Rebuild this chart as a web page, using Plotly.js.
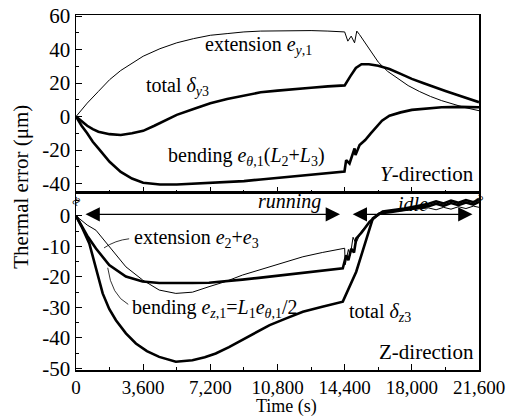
<!DOCTYPE html>
<html>
<head>
<meta charset="utf-8">
<script src="https://cdn.plot.ly/plotly-3.0.1.min.js"></script>
<style>html,body{margin:0;padding:0;background:#fff;}#chart{width:514px;height:416px;}</style>
</head>
<body>
<div id="chart"></div>
<script>
// ---------- Y-direction (top panel) ----------
const tExtY  = [0, 600, 1200, 1800, 2400, 3000, 3600, 4500, 5400, 6300, 7200, 8100, 9000, 9900, 10800, 11700, 12600, 13500, 14300, 14400, 14570, 14750, 14930, 15050, 15190, 15600, 16200, 16700, 17200, 17800, 18400, 19000, 19600, 20200, 20800, 21600];
const extY   = [0, 8, 15, 22, 27.5, 32, 36, 40.5, 44, 46.5, 48.5, 49.5, 50.5, 51, 51.2, 51.3, 51.3, 51, 50.6, 50.5, 45, 48, 44, 51, 49, 42, 32.5, 27, 23, 18.5, 15, 12, 9.5, 7.5, 5.5, 3.5];

const tTotY  = [0, 300, 600, 900, 1200, 1800, 2400, 3000, 3600, 4200, 4800, 5400, 6300, 7200, 8100, 9000, 9900, 10800, 11700, 12600, 13500, 14400, 14700, 15000, 15300, 15700, 16200, 16800, 17400, 18000, 18600, 19200, 19800, 20400, 21000, 21600];
const totY   = [0, -3, -5.5, -7.5, -9, -10.5, -11, -10, -8.5, -5.5, -2, 1, 4.5, 8, 10.5, 12.5, 14.5, 15.5, 16.5, 17.2, 18, 18.6, 24, 29, 31.2, 31.2, 30.3, 28.4, 25.5, 22.5, 20, 17.5, 15.3, 13, 10.8, 8.6];

const tBendY = [0, 300, 600, 900, 1200, 1800, 2400, 3000, 3600, 4500, 5400, 6300, 7200, 8100, 9000, 9900, 10800, 11700, 12600, 13500, 14390, 14480, 14660, 14930, 14980, 15200, 15500, 15800, 16100, 16400, 16800, 17400, 18000, 18800, 19600, 20600, 21600];
const bendY  = [0, -5.5, -10, -15, -19, -27, -33, -37, -39.5, -40.5, -40.5, -40, -39.5, -39, -38.5, -37.5, -36.5, -35.5, -34.5, -33.5, -32.8, -26, -28, -19, -23, -17, -14, -10, -6, -2.5, 0.5, 2.5, 4, 5, 5.6, 5.8, 5.6];

// ---------- Z-direction (bottom panel) ----------
const tExtZ  = [0, 300, 600, 1070, 1780, 2675, 3570, 4460, 5350, 6240, 7130, 8025, 8920, 9800, 10700, 11400, 12160, 13200, 14300, 14400, 14430, 14600, 14700, 14850, 15000, 15300, 15730, 16260, 16900, 17500, 18200, 18900, 19300, 19700, 20100, 20500, 20900, 21300, 21600];
const extZ   = [0, -1.5, -3, -4.7, -10.1, -16.7, -21, -24.3, -25.4, -25, -23.2, -21.5, -19.4, -17.8, -16.1, -14.8, -13.4, -12, -10.8, -10.6, -16, -11, -13, -7, -9, -5, -2, 0.8, 1.3, 1.8, 2.2, 2.6, 2, 2.8, 2.2, 3, 2.4, 3.2, 2.8];

const tBendZ = [0, 300, 600, 1070, 1780, 2675, 3570, 4460, 5350, 6240, 7130, 8025, 8920, 9800, 10700, 11600, 12500, 13400, 14300, 14480, 14600, 14750, 14900, 15020, 15300, 15730, 16260, 16900, 17500, 18200, 18900, 19300, 19700, 20100, 20500, 20900, 21300, 21600];
const bendZ  = [0, -3.5, -6.5, -10.7, -16.1, -19.9, -21.5, -22, -22.1, -22, -21.9, -21.5, -20.9, -20.3, -19.7, -19, -18.3, -17.7, -17.2, -12.9, -14.5, -10.8, -12, -7.4, -5.5, -2, 0.8, 1.3, 1.8, 2.4, 3.2, 4, 3.3, 4.2, 3.5, 4.4, 3.7, 4.6, 4.1];

const tTotZ  = [0, 300, 713, 1070, 1430, 1780, 2140, 2675, 3210, 3800, 4460, 5350, 6240, 6900, 7490, 8200, 8920, 9650, 10380, 11300, 12160, 13200, 14300, 15020, 15550, 15910, 16440, 17000, 17600, 18300, 18900, 19300, 19700, 20100, 20500, 20900, 21300, 21600];
const totZ   = [0, -3.5, -9, -17, -25.4, -30.5, -34.2, -38.5, -41.8, -44.3, -46.2, -47.8, -47.3, -46.3, -45.1, -43, -40.7, -38.2, -35.8, -33.5, -31.4, -29.8, -28.1, -18.3, -7.4, -0.8, 1.4, 1.8, 2.4, 3.2, 4, 4.8, 4.1, 5, 4.3, 5.2, 4.5, 5.4, 4.9];

// ---------- ticks / labels ----------
const xTickVals = [0, 3600, 7200, 10800, 14400, 18000, 21600];
const xTickText = ['0', '3,600', '7,200', '10,800', '14,400', '18,000', '21,600'];
const yTopTickVals = [60, 40, 20, 0, -20, -40];
const yTopTickText = ['60', '40', '20', '0', '-20', '-40'];
const yBotTickVals = [0, -10, -20, -30, -40, -50];
const yBotTickText = ['0', '-10', '-20', '-30', '-40', '-50'];

const FONT = 'Liberation Serif, Times New Roman, serif';
const thick = {color: '#000', width: 2.6};
const thin = {color: '#000', width: 1};

const traces = [
  {x: tExtY, y: extY, xaxis: 'x', yaxis: 'y', mode: 'lines', line: thin, name: 'extension e_y,1'},
  {x: tTotY, y: totY, xaxis: 'x', yaxis: 'y', mode: 'lines', line: thick, name: 'total δ_y3'},
  {x: tBendY, y: bendY, xaxis: 'x', yaxis: 'y', mode: 'lines', line: thick, name: 'bending Y'},
  {x: tExtZ, y: extZ, xaxis: 'x2', yaxis: 'y2', mode: 'lines', line: thin, name: 'extension e2+e3'},
  {x: tBendZ, y: bendZ, xaxis: 'x2', yaxis: 'y2', mode: 'lines', line: thick, name: 'bending Z'},
  {x: tTotZ, y: totZ, xaxis: 'x2', yaxis: 'y2', mode: 'lines', line: thick, name: 'total δ_z3'}
];

const axisCommon = {
  showline: true, mirror: true, linecolor: '#000', linewidth: 1.5,
  showgrid: false, zeroline: false, ticks: 'inside', ticklen: 6, tickcolor: '#000', tickwidth: 1,
  tickfont: {family: FONT, size: 21, color: '#000'}
};

const txt = (text, x, y, xref, yref, xanchor, extra) => Object.assign({
  text, x, y, xref, yref, xanchor, yanchor: 'middle', showarrow: false,
  font: {family: FONT, size: 20, color: '#000'}
}, extra || {});

const annotations = [
  txt('extension <i>e</i><sub><i>y</i>,1</sub>', 6800, 42.5, 'x', 'y', 'left'),
  txt('total <i>δ</i><sub><i>y</i>3</sub>', 3650, 18, 'x', 'y', 'left'),
  txt('bending <i>e</i><sub><i>θ</i>,1</sub>(<i>L</i><sub>2</sub>+<i>L</i><sub>3</sub>)', 4850, -24, 'x', 'y', 'left'),
  txt('<i>Y</i>-direction', 21450, -34, 'x', 'y', 'right', {font: {family: FONT, size: 21, color: '#000'}}),
  txt('<i>running</i>', 11450, 4.6, 'x2', 'y2', 'center'),
  txt('<i>idle</i>', 18050, 4.0, 'x2', 'y2', 'center'),
  txt('extension <i>e</i><sub>2</sub>+<i>e</i><sub>3</sub>', 3000, -7.5, 'x2', 'y2', 'left'),
  txt('bending <i>e</i><sub><i>z</i>,1</sub>=<i>L</i><sub>1</sub><i>e</i><sub><i>θ</i>,1</sub>/2', 2900, -30.5, 'x2', 'y2', 'left'),
  txt('total <i>δ</i><sub><i>z</i>3</sub>', 14500, -31.5, 'x2', 'y2', 'left'),
  txt('Z-direction', 21450, -44.6, 'x2', 'y2', 'right', {font: {family: FONT, size: 21, color: '#000'}}),
  // running / idle arrows
  {x: 14150, y: 0.5, ax: 430, ay: 0.5, xref: 'x2', yref: 'y2', axref: 'x2', ayref: 'y2', text: '',
   showarrow: true, arrowside: 'end+start', arrowhead: 2, startarrowhead: 2, arrowsize: 2.2, startarrowsize: 2.2, arrowwidth: 1.3, arrowcolor: '#000'},
  {x: 21250, y: 0.5, ax: 14750, ay: 0.5, xref: 'x2', yref: 'y2', axref: 'x2', ayref: 'y2', text: '',
   showarrow: true, arrowside: 'end+start', arrowhead: 2, startarrowhead: 2, arrowsize: 2.2, startarrowsize: 2.2, arrowwidth: 1.3, arrowcolor: '#000'},
  // axis titles
  {text: 'Thermal error (μm)', x: -0.135, y: 0.515, xref: 'paper', yref: 'paper', xanchor: 'center', yanchor: 'middle',
   textangle: -90, showarrow: false, font: {family: FONT, size: 21, color: '#000'}},
  {text: 'Time (s)', x: 0.523, y: -0.104, xref: 'paper', yref: 'paper', xanchor: 'center', yanchor: 'middle',
   showarrow: false, font: {family: FONT, size: 18, color: '#000'}},
  // axis break marks
  {text: '≈', x: 0, y: 0.475, xref: 'paper', yref: 'paper', xanchor: 'center', yanchor: 'middle', textangle: -60,
   showarrow: false, font: {family: FONT, size: 16, color: '#000'}},
  {text: '≈', x: 1, y: 0.48, xref: 'paper', yref: 'paper', xanchor: 'center', yanchor: 'middle', textangle: -60,
   showarrow: false, font: {family: FONT, size: 16, color: '#000'}}
];

const shapes = [
  // leader lines
  {type: 'path', xref: 'x2', yref: 'y2', path: 'M 2850 -7.5 Q 2100 -8 1500 -10.5', line: {color: '#000', width: 0.8}},
  {type: 'path', xref: 'x2', yref: 'y2', path: 'M 2800 -29 Q 1900 -26 1700 -17', line: {color: '#000', width: 0.8}}
];

const layout = {
  width: 514, height: 416,
  margin: {l: 76, r: 35, t: 15, b: 46},
  paper_bgcolor: '#fff', plot_bgcolor: '#fff',
  showlegend: false,
  font: {family: FONT, color: '#000'},
  xaxis: Object.assign({}, axisCommon, {domain: [0, 1], anchor: 'y', range: [0, 21600], tickvals: xTickVals, ticktext: xTickText,
    showticklabels: false, minor: {dtick: 1800, tick0: 0, ticks: 'inside', ticklen: 3, tickcolor: '#000'}}),
  yaxis: Object.assign({}, axisCommon, {domain: [0.4986, 1], anchor: 'x', range: [-45.6, 60.6], tickvals: yTopTickVals, ticktext: yTopTickText,
    minor: {dtick: 10, tick0: 0, ticks: 'inside', ticklen: 3, tickcolor: '#000'}}),
  xaxis2: Object.assign({}, axisCommon, {domain: [0, 1], anchor: 'y2', range: [0, 21600], tickvals: xTickVals, ticktext: xTickText,
    matches: 'x', tickfont: {family: FONT, size: 19, color: '#000'},
    minor: {dtick: 1800, tick0: 0, ticks: 'inside', ticklen: 3, tickcolor: '#000'}}),
  yaxis2: Object.assign({}, axisCommon, {domain: [0, 0.4986], anchor: 'x2', range: [-50.5, 7.5], tickvals: yBotTickVals, ticktext: yBotTickText,
    minor: {dtick: 5, tick0: 0, ticks: 'inside', ticklen: 3, tickcolor: '#000'}}),
  annotations, shapes
};

Plotly.newPlot('chart', traces, layout, {staticPlot: true, displayModeBar: false});
</script>
</body>
</html>
